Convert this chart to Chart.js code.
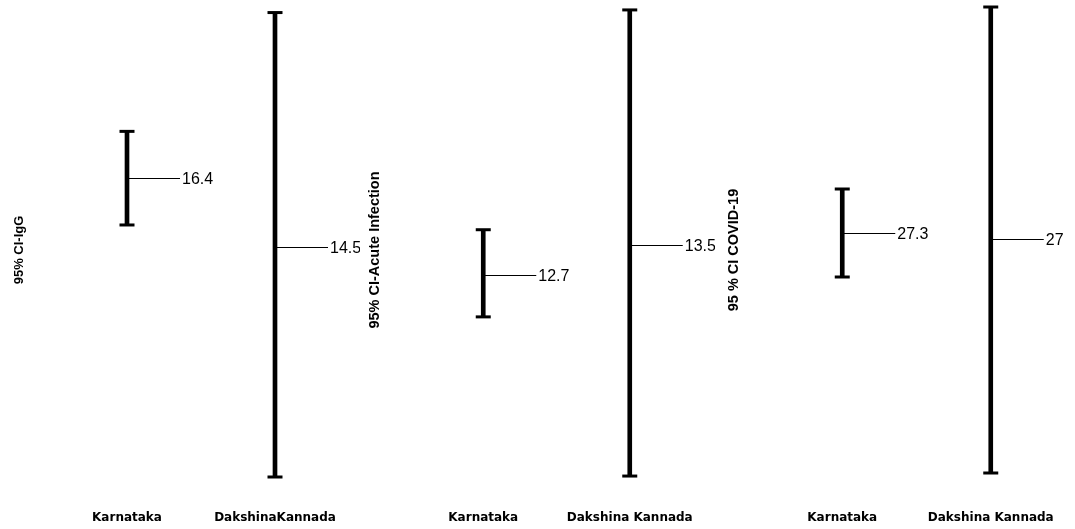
<!DOCTYPE html>
<html>
<head>
<meta charset="utf-8">
<script src="https://cdn.jsdelivr.net/npm/chart.js@4"></script>
<style>
  body { margin: 0; background: #fff; overflow: hidden; }
  canvas { position: absolute; top: 0; }
</style>
</head>
<body>
<canvas id="c1" width="360" height="529" style="left:0px"></canvas>
<canvas id="c2" width="355" height="529" style="left:360px"></canvas>
<canvas id="c3" width="360" height="529" style="left:715px"></canvas>
<script>
// values (percent, point estimate + 95% CI)
var iggLabels = ['Karnataka', 'DakshinaKannada'];
var iggEst = [16.4, 14.5];
var iggLow = [15.1, 8.1];
var iggHigh = [17.7, 21.0];

var acuteLabels = ['Karnataka', 'Dakshina Kannada'];
var acuteEst = [12.7, 13.5];
var acuteLow = [11.6, 7.4];
var acuteHigh = [13.9, 19.7];

var covidLabels = ['Karnataka', 'Dakshina Kannada'];
var covidEst = [27.3, 27];
var covidLow = [25.1, 15.3];
var covidHigh = [29.5, 38.6];

var titles = ['95% CI-IgG', '95% CI-Acute Infection', '95 % CI COVID-19'];
// no scale is printed, so the axis limits are only chosen to place the marks
var yRanges = [[7.6, 21.21], [6.9, 19.83], [14.2, 38.7]];

Chart.defaults.color = '#000';
Chart.defaults.font.family = 'Liberation Sans, Arial, sans-serif';

// caps, estimate tick and its value label
const ciMarks = {
  id: 'ciMarks',
  afterDatasetsDraw(chart) {
    const ctx = chart.ctx;
    const x = chart.scales.x, y = chart.scales.y;
    const est = chart.data.datasets[0].est;
    const rng = chart.data.datasets[0].data;
    ctx.save();
    ctx.strokeStyle = '#000';
    ctx.fillStyle = '#000';
    rng.forEach(function (r, i) {
      const px = x.getPixelForValue(i);
      ctx.lineWidth = 3;
      [r[0], r[1]].forEach(function (v) {
        const py = y.getPixelForValue(v);
        ctx.beginPath();
        ctx.moveTo(px - 7.5, py);
        ctx.lineTo(px + 7.5, py);
        ctx.stroke();
      });
      const ey = Math.round(y.getPixelForValue(est[i])) + 0.5;
      ctx.lineWidth = 1;
      ctx.beginPath();
      ctx.moveTo(px, ey);
      ctx.lineTo(px + 53, ey);
      ctx.stroke();
      ctx.font = '16px "Liberation Sans", Arial, sans-serif';
      ctx.textBaseline = 'middle';
      ctx.textAlign = 'left';
      ctx.fillText(String(est[i]), px + 55, ey + 1);
    });
    ctx.restore();
  }
};

function makePanel(id, idx, labels, est, low, high, padLeft, axisW, padRight, titleSize) {
  new Chart(document.getElementById(id), {
    type: 'bar',
    data: {
      labels: labels,
      datasets: [{
        data: low.map(function (l, i) { return [l, high[i]]; }),
        est: est,
        backgroundColor: '#000',
        barThickness: 4,
        borderSkipped: false
      }]
    },
    plugins: [ciMarks],
    options: {
      responsive: false,
      animation: false,
      events: [],
      layout: { padding: { left: padLeft, right: padRight, top: 5, bottom: 3.6 } },
      plugins: { legend: { display: false }, tooltip: { enabled: false } },
      scales: {
        x: {
          grid: { display: false, drawTicks: false },
          border: { display: false },
          ticks: {
            padding: 16,
            maxRotation: 0,
            autoSkip: false,
            font: { family: 'DejaVu Sans', size: 12, weight: 'bold' }
          },
          afterFit: function (s) { s.height = 30.4; }
        },
        y: {
          min: yRanges[idx][0],
          max: yRanges[idx][1],
          grid: { display: false, drawTicks: false },
          border: { display: false },
          ticks: { display: false },
          title: {
            display: true,
            text: titles[idx],
            font: { size: titleSize, weight: 'bold' }
          },
          afterFit: function (s) { s.width = axisW; }
        }
      }
    }
  });
}

makePanel('c1', 0, iggLabels, iggEst, iggLow, iggHigh, 8, 45, 11, 13);
makePanel('c2', 1, acuteLabels, acuteEst, acuteLow, acuteHigh, 2, 48, 12, 14.5);
makePanel('c3', 2, covidLabels, covidEst, covidLow, covidHigh, 6, 47, 10, 14.5);
</script>
</body>
</html>
